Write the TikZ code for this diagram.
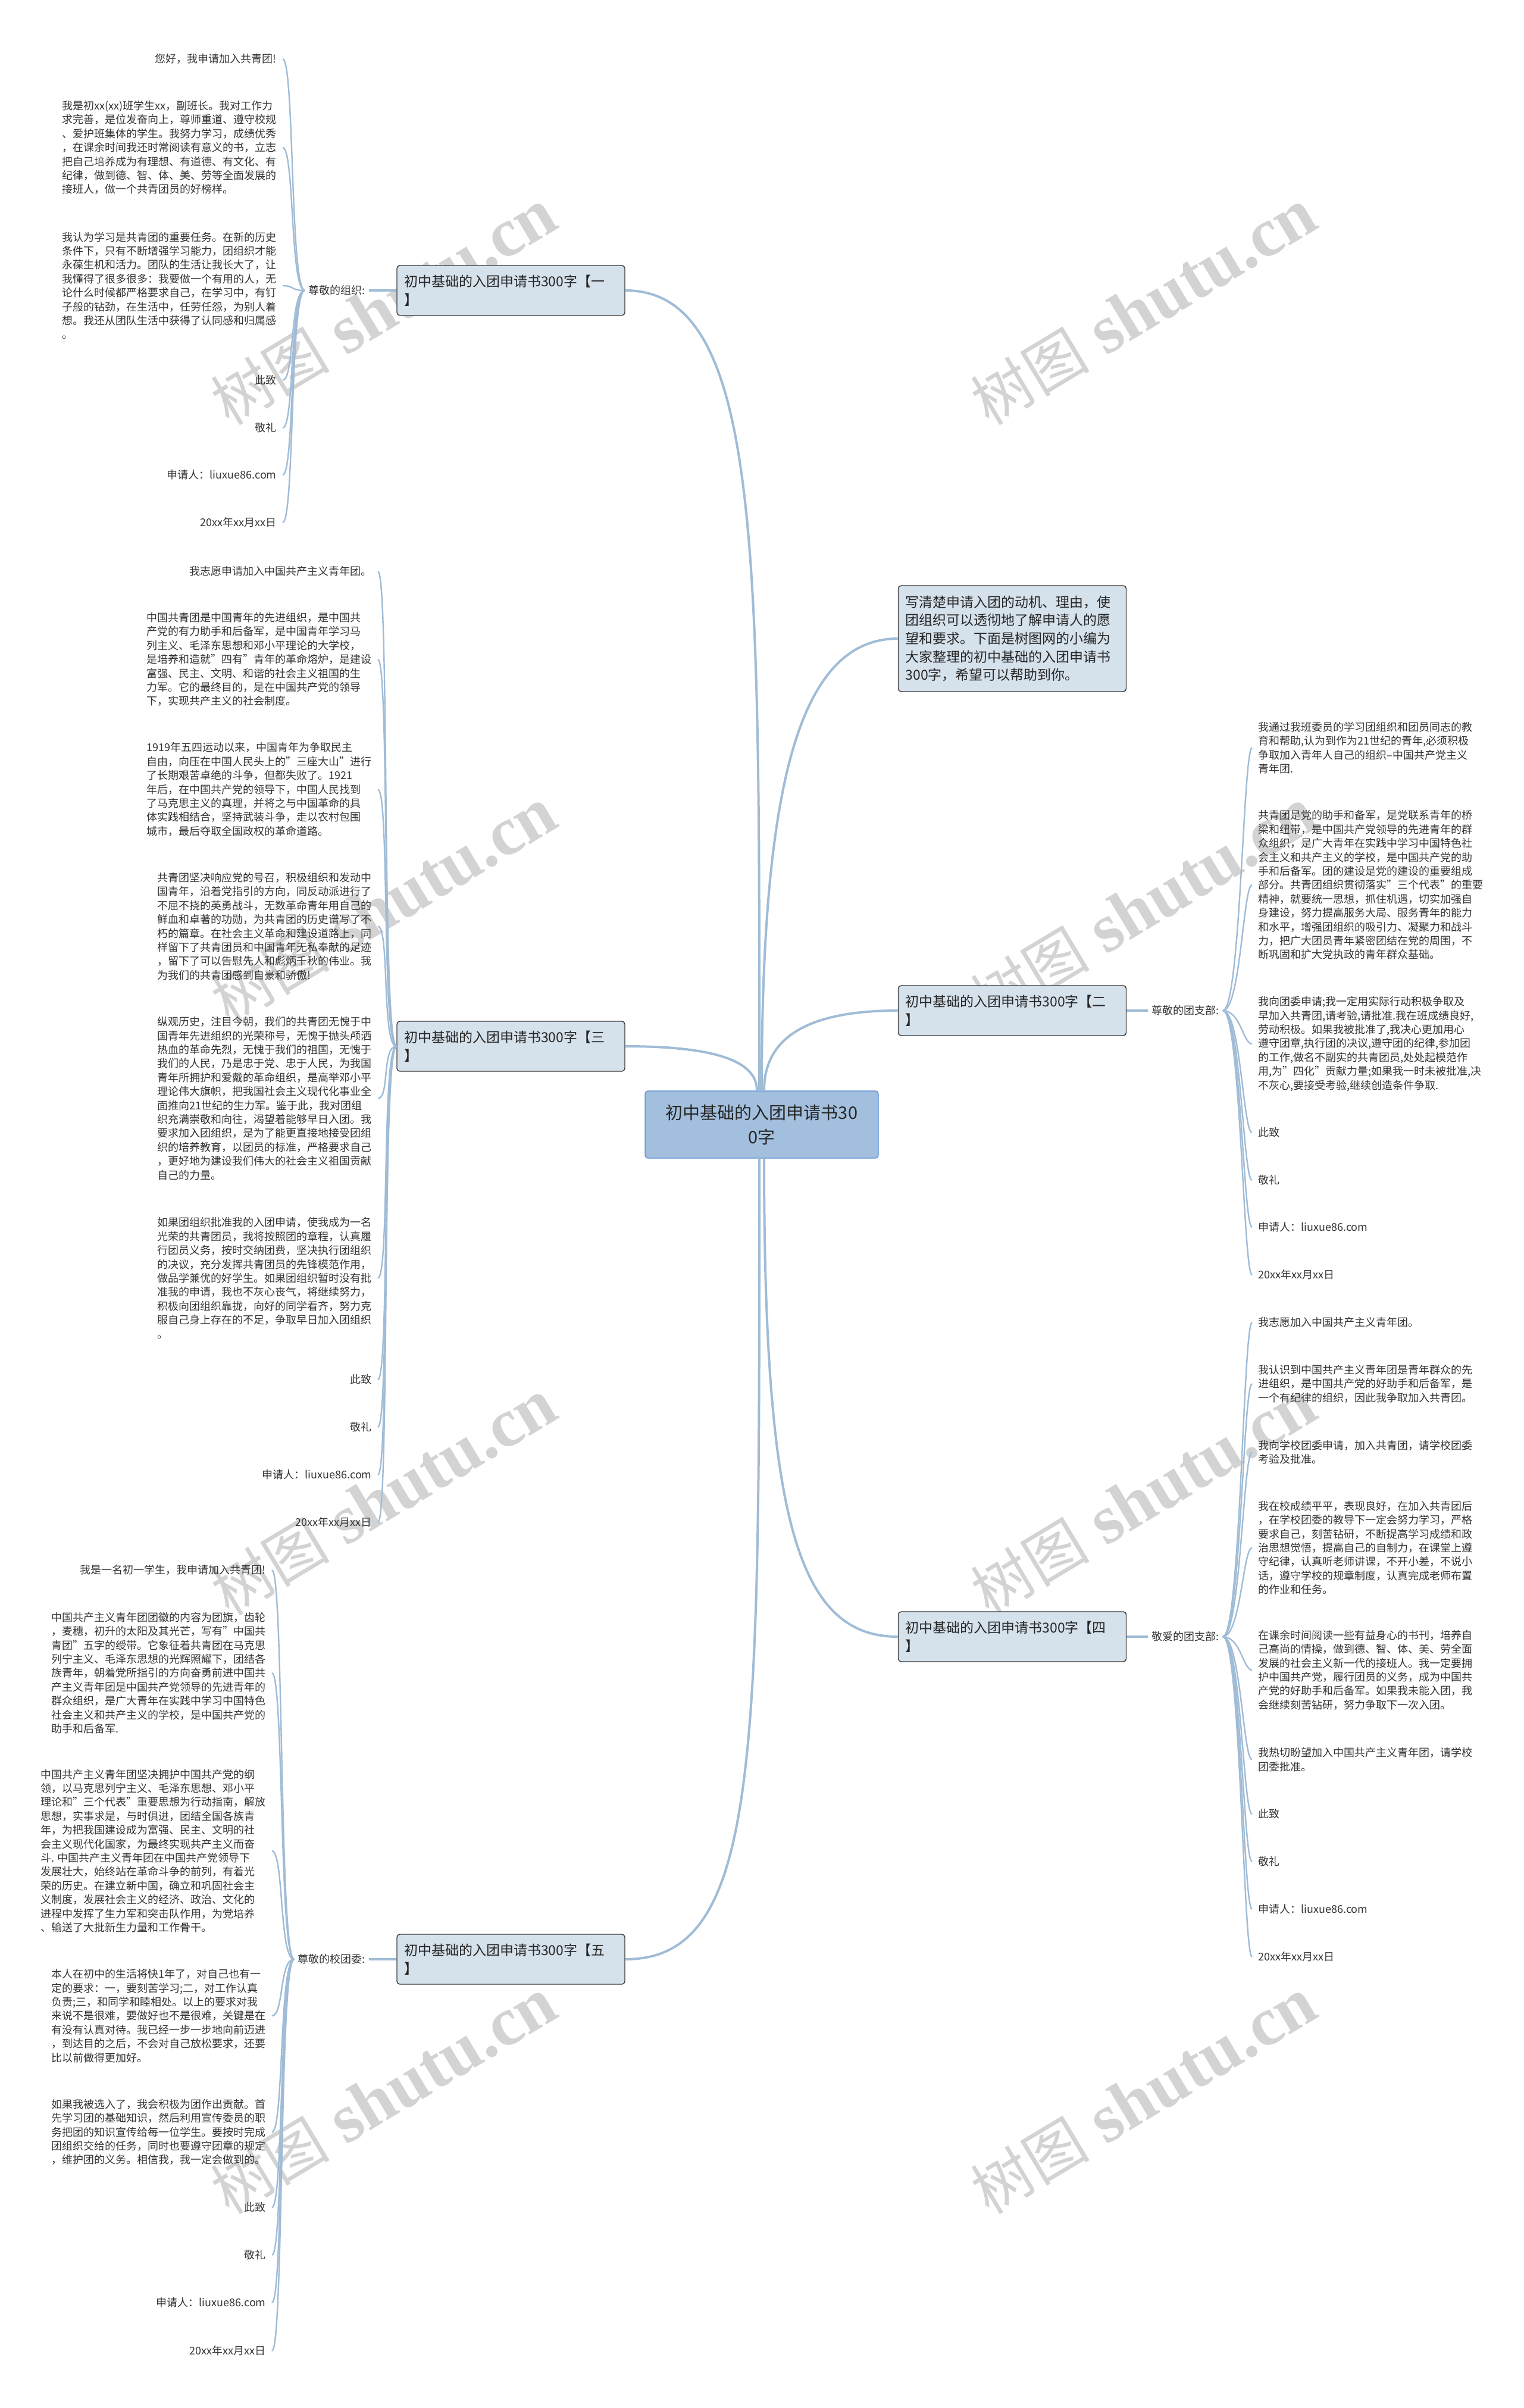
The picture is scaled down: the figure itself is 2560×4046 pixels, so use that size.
\documentclass[tikz,border=0pt]{standalone}
\usepackage{fontspec}
\setmainfont{Noto Sans CJK SC}
\newfontfamily\wmlatin{Liberation Serif}
\definecolor{linecol}{HTML}{A0BCD6}
\definecolor{boxfill}{HTML}{D5E1EB}
\definecolor{boxline}{HTML}{3A3A3A}
\definecolor{rootfill}{HTML}{A2BFDD}
\definecolor{rootline}{HTML}{5B8FD4}
\definecolor{txt}{HTML}{333333}
\definecolor{wmcol}{HTML}{D3D3D3}
\begin{document}
\begin{tikzpicture}[x=0.5pt,y=-0.5pt,
  leafL/.style={anchor=east, inner xsep=5pt, inner ysep=1pt, align=left, text=txt, font=\fontsize{9pt}{11.7pt}\selectfont},
  leafR/.style={anchor=west, inner xsep=5pt, inner ysep=1pt, align=left, text=txt, font=\fontsize{9pt}{11.7pt}\selectfont},
  branchbox/.style={draw=boxline, line width=0.7pt, fill=boxfill, rounded corners=2.5pt, minimum width=191.5pt, minimum height=42pt, text width=179.5pt, inner xsep=6pt, align=left, text=black!85, font=\fontsize{11.5pt}{15.3pt}\selectfont},
  rootbox/.style={draw=rootline, line width=0.7pt, fill=rootfill, rounded corners=2.5pt, minimum width=196pt, minimum height=56.5pt, align=center, text=black!85, font=\fontsize{14.5pt}{20.5pt}\selectfont},
  lab/.style={inner xsep=3pt, inner ysep=1pt, text=txt, font=\fontsize{9pt}{11pt}\selectfont},
  mainline/.style={draw=linecol, line width=2pt},
  leafline/.style={draw=linecol, line width=1.2pt},
  wm/.style={text=wmcol, rotate=31, inner sep=0pt}
]
\fill[white] (0,0) rectangle (2560,4046);
\useasboundingbox (0,0) rectangle (2560,4046);

% watermarks
\foreach \wx/\wy [count=\i] in {645/516,1922/516,645/1522,1922/1522,645/2516,1922/2516,645/3522,1922/3522}
  \node[wm] (wm\i) at (\wx,\wy) {{\fontsize{50pt}{50pt}\selectfont 树图}\hspace{14pt}{\wmlatin\bfseries\fontsize{58pt}{58pt}\selectfont shutu.cn}};

% root and branches
\node[rootbox] (root) at (1280,1889.5) {初中基础的入团申请书30\\0字};
\node[branchbox, minimum height=89pt] (intro) at (1701,1073) {写清楚申请入团的动机、理由，使\\团组织可以透彻地了解申请人的愿\\望和要求。下面是树图网的小编为\\大家整理的初中基础的入团申请书\\300字，希望可以帮助到你。};
\node[branchbox] (br1) at (858.5,488) {初中基础的入团申请书300字【一\\】};
\node[branchbox] (br2) at (1701,1698) {初中基础的入团申请书300字【二\\】};
\node[branchbox] (br3) at (858.5,1758) {初中基础的入团申请书300字【三\\】};
\node[branchbox] (br4) at (1701,2750) {初中基础的入团申请书300字【四\\】};
\node[branchbox] (br5) at (858.5,3292) {初中基础的入团申请书300字【五\\】};

\node[lab, anchor=east] (lab1) at (620,488) {尊敬的组织:};
\node[lab, anchor=west] (lab2) at (1929,1698) {尊敬的团支部:};
\node[lab, anchor=west] (lab4) at (1929,2750) {敬爱的团支部:};
\node[lab, anchor=east] (lab5) at (620,3292) {尊敬的校团委:};

% branch 1 leaves
\node[leafL] (a1) at (475,99) {您好，我申请加入共青团!};
\node[leafL] (a2) at (475,248) {我是初xx(xx)班学生xx，副班长。我对工作力\\求完善，是位发奋向上，尊师重道、遵守校规\\、爱护班集体的学生。我努力学习，成绩优秀\\，在课余时间我还时常阅读有意义的书，立志\\把自己培养成为有理想、有道德、有文化、有\\纪律，做到德、智、体、美、劳等全面发展的\\接班人，做一个共青团员的好榜样。};
\node[leafL] (a3) at (475,480) {我认为学习是共青团的重要任务。在新的历史\\条件下，只有不断增强学习能力，团组织才能\\永葆生机和活力。团队的生活让我长大了，让\\我懂得了很多很多：我要做一个有用的人，无\\论什么时候都严格要求自己，在学习中，有钉\\子般的钻劲，在生活中，任劳任怨，为别人着\\想。我还从团队生活中获得了认同感和归属感\\。};
\node[leafL] (a4) at (475,639) {此致};
\node[leafL] (a5) at (475,719) {敬礼};
\node[leafL] (a6) at (475,798) {申请人：liuxue86.com};
\node[leafL] (a7) at (475,878) {20xx年xx月xx日};

% branch 3 leaves
\node[leafL] (c1) at (635,960) {我志愿申请加入中国共产主义青年团。};
\node[leafL] (c2) at (635,1108) {中国共青团是中国青年的先进组织，是中国共\\产党的有力助手和后备军，是中国青年学习马\\列主义、毛泽东思想和邓小平理论的大学校，\\是培养和造就"四有"青年的革命熔炉，是建设\\富强、民主、文明、和谐的社会主义祖国的生\\力军。它的最终目的，是在中国共产党的领导\\下，实现共产主义的社会制度。};
\node[leafL] (c3) at (635,1326.5) {1919年五四运动以来，中国青年为争取民主\\自由，向压在中国人民头上的"三座大山"进行\\了长期艰苦卓绝的斗争，但都失败了。1921\\年后，在中国共产党的领导下，中国人民找到\\了马克思主义的真理，并将之与中国革命的具\\体实践相结合，坚持武装斗争，走以农村包围\\城市，最后夺取全国政权的革命道路。};
\node[leafL] (c4) at (635,1556.5) {共青团坚决响应党的号召，积极组织和发动中\\国青年，沿着党指引的方向，同反动派进行了\\不屈不挠的英勇战斗，无数革命青年用自己的\\鲜血和卓著的功勋，为共青团的历史谱写了不\\朽的篇章。在社会主义革命和建设道路上，同\\样留下了共青团员和中国青年无私奉献的足迹\\，留下了可以告慰先人和彪炳千秋的伟业。我\\为我们的共青团感到自豪和骄傲!};
\node[leafL] (c5) at (635,1845.5) {纵观历史，注目今朝，我们的共青团无愧于中\\国青年先进组织的光荣称号，无愧于抛头颅洒\\热血的革命先烈，无愧于我们的祖国，无愧于\\我们的人民，乃是忠于党、忠于人民，为我国\\青年所拥护和爱戴的革命组织，是高举邓小平\\理论伟大旗帜，把我国社会主义现代化事业全\\面推向21世纪的生力军。鉴于此，我对团组\\织充满崇敬和向往，渴望着能够早日入团。我\\要求加入团组织，是为了能更直接地接受团组\\织的培养教育，以团员的标准，严格要求自己\\，更好地为建设我们伟大的社会主义祖国贡献\\自己的力量。};
\node[leafL] (c6) at (635,2147.5) {如果团组织批准我的入团申请，使我成为一名\\光荣的共青团员，我将按照团的章程，认真履\\行团员义务，按时交纳团费，坚决执行团组织\\的决议，充分发挥共青团员的先锋模范作用，\\做品学兼优的好学生。如果团组织暂时没有批\\准我的申请，我也不灰心丧气，将继续努力，\\积极向团组织靠拢，向好的同学看齐，努力克\\服自己身上存在的不足，争取早日加入团组织\\。};
\node[leafL] (c7) at (635,2318) {此致};
\node[leafL] (c8) at (635,2398) {敬礼};
\node[leafL] (c9) at (635,2478) {申请人：liuxue86.com};
\node[leafL] (c10) at (635,2558) {20xx年xx月xx日};

% branch 5 leaves
\node[leafL] (e1) at (457,2638) {我是一名初一学生，我申请加入共青团!};
\node[leafL] (e2) at (457,2811) {中国共产主义青年团团徽的内容为团旗，齿轮\\，麦穗，初升的太阳及其光芒，写有"中国共\\青团"五字的绶带。它象征着共青团在马克思\\列宁主义、毛泽东思想的光辉照耀下，团结各\\族青年，朝着党所指引的方向奋勇前进中国共\\产主义青年团是中国共产党领导的先进青年的\\群众组织，是广大青年在实践中学习中国特色\\社会主义和共产主义的学校，是中国共产党的\\助手和后备军.};
\node[leafL] (e3) at (457,3110) {中国共产主义青年团坚决拥护中国共产党的纲\\领，以马克思列宁主义、毛泽东思想、邓小平\\理论和"三个代表"重要思想为行动指南，解放\\思想，实事求是，与时俱进，团结全国各族青\\年，为把我国建设成为富强、民主、文明的社\\会主义现代化国家，为最终实现共产主义而奋\\斗. 中国共产主义青年团在中国共产党领导下\\发展壮大，始终站在革命斗争的前列，有着光\\荣的历史。在建立新中国，确立和巩固社会主\\义制度，发展社会主义的经济、政治、文化的\\进程中发挥了生力军和突击队作用，为党培养\\、输送了大批新生力量和工作骨干。};
\node[leafL] (e4) at (457,3387) {本人在初中的生活将快1年了，对自己也有一\\定的要求：一，要刻苦学习;二，对工作认真\\负责;三，和同学和睦相处。以上的要求对我\\来说不是很难，要做好也不是很难，关键是在\\有没有认真对待。我已经一步一步地向前迈进\\，到达目的之后，不会对自己放松要求，还要\\比以前做得更加好。};
\node[leafL] (e5) at (457,3582.5) {如果我被选入了，我会积极为团作出贡献。首\\先学习团的基础知识，然后利用宣传委员的职\\务把团的知识宣传给每一位学生。要按时完成\\团组织交给的任务，同时也要遵守团章的规定\\，维护团的义务。相信我，我一定会做到的。};
\node[leafL] (e6) at (457,3709) {此致};
\node[leafL] (e7) at (457,3789) {敬礼};
\node[leafL] (e8) at (457,3869) {申请人：liuxue86.com};
\node[leafL] (e9) at (457,3950) {20xx年xx月xx日};

% branch 2 leaves
\node[leafR] (b1) at (2104,1256.5) {我通过我班委员的学习团组织和团员同志的教\\育和帮助,认为到作为21世纪的青年,必须积极\\争取加入青年人自己的组织--中国共产党主义\\青年团.};
\node[leafR] (b2) at (2104,1487) {共青团是党的助手和备军，是党联系青年的桥\\梁和纽带，是中国共产党领导的先进青年的群\\众组织，是广大青年在实践中学习中国特色社\\会主义和共产主义的学校，是中国共产党的助\\手和后备军。团的建设是党的建设的重要组成\\部分。共青团组织贯彻落实"三个代表"的重要\\精神，就要统一思想，抓住机遇，切实加强自\\身建设，努力提高服务大局、服务青年的能力\\和水平，增强团组织的吸引力、凝聚力和战斗\\力，把广大团员青年紧密团结在党的周围，不\\断巩固和扩大党执政的青年群众基础。};
\node[leafR] (b3) at (2104,1754) {我向团委申请;我一定用实际行动积极争取及\\早加入共青团,请考验,请批准.我在班成绩良好,\\劳动积极。如果我被批准了,我决心更加用心\\遵守团章,执行团的决议,遵守团的纪律,参加团\\的工作,做名不副实的共青团员,处处起模范作\\用,为"四化"贡献力量;如果我一时未被批准,决\\不灰心,要接受考验,继续创造条件争取.};
\node[leafR] (b4) at (2104,1903) {此致};
\node[leafR] (b5) at (2104,1983) {敬礼};
\node[leafR] (b6) at (2104,2062) {申请人：liuxue86.com};
\node[leafR] (b7) at (2104,2142) {20xx年xx月xx日};

% branch 4 leaves
\node[leafR] (d1) at (2104,2222) {我志愿加入中国共产主义青年团。};
\node[leafR] (d2) at (2104,2325) {我认识到中国共产主义青年团是青年群众的先\\进组织，是中国共产党的好助手和后备军，是\\一个有纪律的组织，因此我争取加入共青团。};
\node[leafR] (d3) at (2104,2440) {我向学校团委申请，加入共青团，请学校团委\\考验及批准。};
\node[leafR] (d4) at (2104,2600.5) {我在校成绩平平，表现良好，在加入共青团后\\，在学校团委的教导下一定会努力学习，严格\\要求自己，刻苦钻研，不断提高学习成绩和政\\治思想觉悟，提高自己的自制力，在课堂上遵\\守纪律，认真听老师讲课，不开小差，不说小\\话，遵守学校的规章制度，认真完成老师布置\\的作业和任务。};
\node[leafR] (d5) at (2104,2806) {在课余时间阅读一些有益身心的书刊，培养自\\己高尚的情操，做到德、智、体、美、劳全面\\发展的社会主义新一代的接班人。我一定要拥\\护中国共产党，履行团员的义务，成为中国共\\产党的好助手和后备军。如果我未能入团，我\\会继续刻苦钻研，努力争取下一次入团。};
\node[leafR] (d6) at (2104,2956.5) {我热切盼望加入中国共产主义青年团，请学校\\团委批准。};
\node[leafR] (d7) at (2104,3048) {此致};
\node[leafR] (d8) at (2104,3128) {敬礼};
\node[leafR] (d9) at (2104,3208) {申请人：liuxue86.com};
\node[leafR] (d10) at (2104,3288) {20xx年xx月xx日};

% main connectors
\draw[mainline] ([xshift=-2pt]root.north) .. controls +(0,-900) and +(230,0) .. (br1.east);
\draw[mainline] (root.north) .. controls +(0,-500) and +(-170,0) .. (intro.west);
\draw[mainline] ([xshift=2pt]root.north) .. controls +(0,-90) and +(-150,0) .. (br2.west);
\draw[mainline] ([xshift=-4pt]root.north) .. controls +(0,-50) and +(150,0) .. (br3.east);
\draw[mainline] ([xshift=2pt]root.south) .. controls +(0,600) and +(-170,0) .. (br4.west);
\draw[mainline] ([xshift=-2pt]root.south) .. controls +(0,1000) and +(230,0) .. (br5.east);

\draw[mainline] (br1.west) -- (lab1.east);
\draw[mainline] (br2.east) -- (lab2.west);
\draw[mainline] (br4.east) -- (lab4.west);
\draw[mainline] (br5.west) -- (lab5.east);

% leaf connectors
\foreach \n in {a1,a2,a3,a4,a5,a6,a7}
  \draw[leafline] (lab1.west) .. controls +(-25,0) and +(20,0) .. (\n.east);
\foreach \n in {c1,c2,c3,c4,c5,c6,c7,c8,c9,c10}
  \draw[leafline] (br3.west) .. controls +(-25,0) and +(20,0) .. (\n.east);
\foreach \n in {e1,e2,e3,e4,e5,e6,e7,e8,e9}
  \draw[leafline] (lab5.west) .. controls +(-25,0) and +(20,0) .. (\n.east);
\foreach \n in {b1,b2,b3,b4,b5,b6,b7}
  \draw[leafline] (lab2.east) .. controls +(30,0) and +(-15,0) .. (\n.west);
\foreach \n in {d1,d2,d3,d4,d5,d6,d7,d8,d9,d10}
  \draw[leafline] (lab4.east) .. controls +(30,0) and +(-15,0) .. (\n.west);
\end{tikzpicture}
\end{document}
